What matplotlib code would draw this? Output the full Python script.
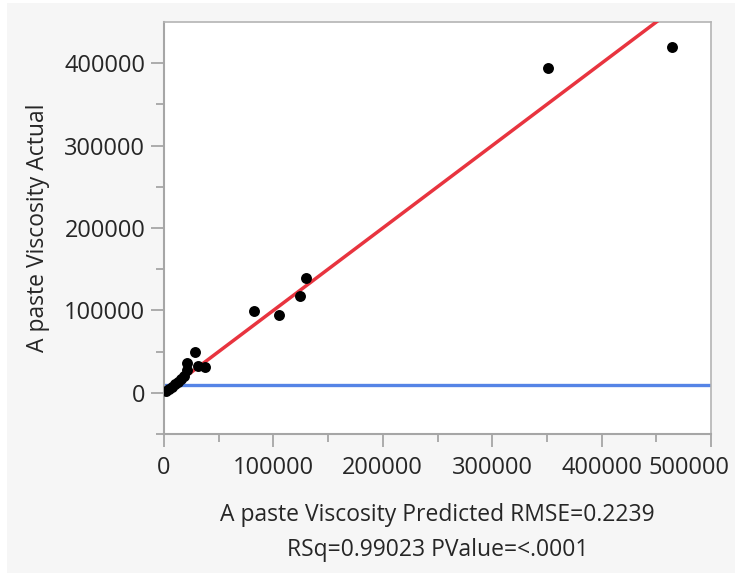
import matplotlib
matplotlib.use("Agg")
import matplotlib.pyplot as plt
import matplotlib.transforms as mtransforms
from matplotlib.patches import Rectangle
import numpy as np

plt.rcParams['font.family'] = ['Open Sans', 'DejaVu Sans']

# Data (predicted, actual)
predicted = [1800, 4600, 7300, 10000, 12800, 15500, 18300, 21000,
             21300, 28300, 31400, 37500,
             82300, 105100, 124600, 129800,
             351300, 464100]
actual = [2200, 4600, 7000, 10700, 13100, 16700, 20400, 27700,
          35800, 49900, 32900, 30900,
          99600, 94400, 117800, 139000,
          393800, 419300]
mean_actual_line = 9000

x_ticks = [0, 100000, 200000, 300000, 400000, 500000]
y_ticks = [0, 100000, 200000, 300000, 400000]
x_label = "A paste Viscosity Predicted RMSE=0.2239\nRSq=0.99023 PValue=<.0001"
y_label = "A paste Viscosity Actual"

fig = plt.figure(figsize=(7.35, 5.73), dpi=100, facecolor='white')
fig.patches.append(Rectangle((7 / 735, 0), 1, 1 - 3 / 573, transform=fig.transFigure,
                             facecolor='#f6f6f6', edgecolor='none', zorder=-10))

ax = fig.add_axes([164 / 735, 1 - 434 / 573, 547 / 735, 412 / 573])
ax.set_facecolor('white')
ax.set_xlim(0, 500000)
ax.set_ylim(-50000, 450000)

# mean line
ax.axhline(mean_actual_line, color='#5584e6', lw=2.4, zorder=2)
# fit line (actual = predicted)
fx = np.array([min(predicted), 500000])
ax.plot(fx, fx, color='#e8343f', lw=2.5, zorder=3)
# points
ax.scatter(predicted, actual, s=62, color='black', zorder=4, linewidths=0)

ax.set_xticks(x_ticks)
ax.set_xticklabels([str(v) for v in x_ticks])
ax.set_yticks(y_ticks)
ax.set_yticklabels([str(v) for v in y_ticks])
ax.set_xticks(np.arange(50000, 500000, 100000), minor=True)
ax.set_yticks(np.arange(-50000, 450000, 100000), minor=True)

tick_col = '#a6a6a6'
ax.tick_params(axis='both', which='major', length=9.5, width=1.3, color=tick_col,
               labelsize=17, labelcolor='#262626', direction='out')
ax.tick_params(axis='both', which='minor', length=5.5, width=1.3, color=tick_col,
               direction='out')
ax.tick_params(axis='x', which='major', pad=6)
ax.tick_params(axis='y', which='major', pad=4)

for side in ['left', 'bottom']:
    ax.spines[side].set_color(tick_col)
    ax.spines[side].set_linewidth(1.5)
for side in ['top', 'right']:
    ax.spines[side].set_color('#b4b4b4')
    ax.spines[side].set_linewidth(1.2)

# shift last x tick label to stay inside the panel
labels = ax.get_xticklabels()
offset = mtransforms.ScaledTranslation(-22 / 100, 0, fig.dpi_scale_trans)
labels[-1].set_transform(labels[-1].get_transform() + offset)

ax.set_xlabel(x_label, fontsize=16.5, color='#262626', linespacing=1.6, labelpad=17)
ax.set_ylabel(y_label, fontsize=16.5, color='#262626', labelpad=10)

fig.savefig('out.png', dpi=100, facecolor=fig.get_facecolor())
